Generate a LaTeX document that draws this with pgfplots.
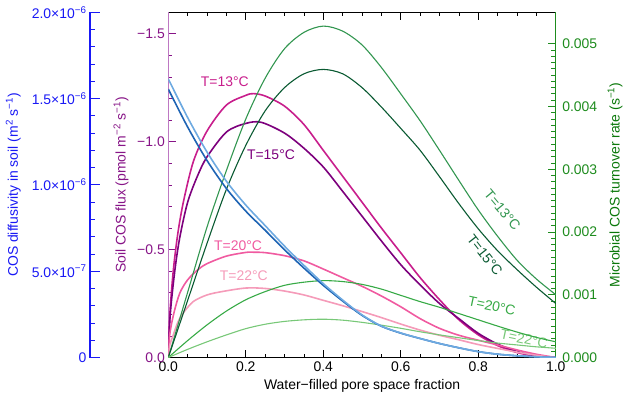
\documentclass[border=0pt]{standalone}
\usepackage{pgfplots}
\pgfplotsset{compat=1.18}
\usepackage{fontspec}
\setmainfont{Liberation Sans}
\definecolor{baxis}{RGB}{25,25,245}
\definecolor{faxis}{RGB}{135,20,135}
\definecolor{fline}{RGB}{190,120,195}
\definecolor{gaxis}{RGB}{30,140,30}
\definecolor{glabel}{RGB}{10,120,10}
\definecolor{cA}{RGB}{200,30,140}
\definecolor{cB}{RGB}{125,0,125}
\definecolor{cC}{RGB}{240,90,160}
\definecolor{cD}{RGB}{245,155,185}
\definecolor{gA}{RGB}{50,150,80}
\definecolor{gB}{RGB}{10,90,50}
\definecolor{gC}{RGB}{55,170,70}
\definecolor{gD}{RGB}{120,200,120}
\definecolor{bD}{RGB}{30,100,180}
\definecolor{bL}{RGB}{110,170,225}
\begin{document}
\begin{tikzpicture}[font=\fontsize{14}{17}\selectfont]
\path[use as bounding box] (-168.3bp,-43.5bp) rectangle (461.7bp,357.5bp);
\pgfplotsset{base/.style={scale only axis, width=387.5bp, height=345.2bp, xmin=0, xmax=1, scaled y ticks=false}}
% ---------------- main: soil COS flux ----------------
\begin{axis}[base, ymin=-1.6, ymax=0, y dir=reverse,
  axis x line*=box, axis y line*=left,
  every outer x axis line/.append style={-}, every outer y axis line/.append style={-},
  x axis line style={-, black, line width=0.8bp},
  y axis line style={-, fline, line width=1.4bp},
  xtick={0,0.2,0.4,0.6,0.8,1}, xticklabels={0.0,0.2,0.4,0.6,0.8,1.0},
  minor x tick num=3, xtick pos=both, xticklabel pos=lower,
  ytick={-1.5,-1,-0.5,0}, yticklabels={−1.5,−1.0,−0.5,0.0},
  minor y tick num=4, ytick pos=left, yticklabel pos=left,
  tick align=inside, major tick length=8bp, minor tick length=4bp,
  x tick style={black, line width=0.8bp}, y tick style={faxis, line width=0.8bp},
  yticklabel style={text=faxis},
  xticklabel style={anchor=base, yshift=-14bp},
  xlabel={Water−filled pore space fraction},
  xlabel style={at={(axis description cs:0.5,-0.083)}, anchor=center},
  ylabel={Soil COS flux (pmol m\textsuperscript{−2} s\textsuperscript{−1})},
  ylabel style={at={(axis description cs:-0.122,0.5)}, anchor=center, text=faxis},
]
\addplot[cA, line width=1.6bp, smooth] coordinates {(0,0) (0.004,-0.2) (0.013,-0.405) (0.025,-0.58) (0.04,-0.73) (0.065,-0.91) (0.1,-1.05) (0.15,-1.17) (0.2,-1.215) (0.22,-1.223) (0.25,-1.212) (0.3,-1.165) (0.35,-1.08) (0.4,-0.96) (0.45,-0.84) (0.5,-0.72) (0.55,-0.6) (0.6,-0.485) (0.65,-0.37) (0.7,-0.268) (0.75,-0.175) (0.8,-0.105) (0.85,-0.055) (0.9,-0.023) (0.95,-0.006) (1,0)};
\addplot[cB, line width=1.6bp, smooth] coordinates {(0,0) (0.005,-0.2) (0.017,-0.405) (0.03,-0.56) (0.05,-0.72) (0.075,-0.84) (0.1,-0.93) (0.15,-1.045) (0.2,-1.085) (0.24,-1.09) (0.3,-1.04) (0.35,-0.97) (0.4,-0.883) (0.45,-0.77) (0.5,-0.655) (0.55,-0.54) (0.6,-0.43) (0.65,-0.336) (0.7,-0.25) (0.75,-0.18) (0.8,-0.112) (0.85,-0.062) (0.9,-0.028) (0.95,-0.008) (1,0)};
\addplot[cC, line width=1.6bp, smooth] coordinates {(0,0) (0.004,-0.11) (0.015,-0.21) (0.03,-0.3) (0.05,-0.36) (0.075,-0.405) (0.1,-0.435) (0.15,-0.47) (0.2,-0.487) (0.22,-0.488) (0.25,-0.486) (0.3,-0.472) (0.35,-0.448) (0.4,-0.41) (0.45,-0.37) (0.5,-0.33) (0.55,-0.285) (0.6,-0.235) (0.65,-0.18) (0.7,-0.135) (0.75,-0.103) (0.8,-0.08) (0.85,-0.058) (0.9,-0.035) (0.95,-0.015) (1,0)};
\addplot[cD, line width=1.6bp, smooth] coordinates {(0,0) (0.004,-0.06) (0.012,-0.1) (0.025,-0.165) (0.04,-0.21) (0.065,-0.26) (0.1,-0.29) (0.14,-0.306) (0.2,-0.322) (0.25,-0.32) (0.3,-0.308) (0.35,-0.29) (0.4,-0.265) (0.45,-0.24) (0.5,-0.213) (0.55,-0.185) (0.6,-0.155) (0.65,-0.127) (0.7,-0.103) (0.75,-0.082) (0.8,-0.06) (0.85,-0.042) (0.9,-0.025) (0.95,-0.01) (1,0)};
\node[text=cA] at (axis cs:0.146,-1.28) {T=13°C};
\node[text=cB] at (axis cs:0.265,-0.942) {T=15°C};
\node[text=cC] at (axis cs:0.18,-0.516) {T=20°C};
\node[text=cD] at (axis cs:0.195,-0.377) {T=22°C};
\node[text=gA, rotate=-50, inner sep=0pt] at (axis cs:0.862,-0.683) {T=13°C};
\node[text=gB, rotate=-52, inner sep=0pt] at (axis cs:0.817,-0.475) {T=15°C};
\node[text=gC, rotate=-12, inner sep=0pt] at (axis cs:0.835,-0.238) {T=20°C};
\node[text=gD, rotate=-12, inner sep=0pt] at (axis cs:0.918,-0.086) {T=22°C};
\end{axis}
% ---------------- green: microbial turnover ----------------
\begin{axis}[base, ymin=0, ymax=0.0055,
  axis x line=none, axis y line*=right,
  every outer y axis line/.append style={-},
  y axis line style={-, gaxis, line width=1.2bp},
  ytick={0,0.001,0.002,0.003,0.004,0.005},
  yticklabels={0.000,0.001,0.002,0.003,0.004,0.005},
  minor y tick num=9, ytick pos=right, yticklabel pos=right,
  tick align=inside, major tick length=8bp, minor tick length=4.5bp,
  y tick style={gaxis, line width=0.8bp},
  yticklabel style={text=gaxis, xshift=3bp},
  ylabel={Microbial COS turnover rate (s\textsuperscript{−1})},
  ylabel style={at={(axis description cs:1.153,0.5)}, anchor=center, text=glabel},
]
\addplot[gA, line width=1.1bp, smooth] coordinates {(0,0) (0.05,1.04e-3) (0.1,2.08e-3) (0.15,2.98e-3) (0.2,3.8e-3) (0.25,4.45e-3) (0.3,4.92e-3) (0.35,5.18e-3) (0.4,5.28e-3) (0.45,5.2e-3) (0.5,4.98e-3) (0.55,4.62e-3) (0.6,4.2e-3) (0.65,3.77e-3) (0.7,3.3e-3) (0.75,2.82e-3) (0.8,2.35e-3) (0.85,1.93e-3) (0.9,1.55e-3) (0.95,1.25e-3) (1,1.0e-3)};
\addplot[gB, line width=1.1bp, smooth] coordinates {(0,0) (0.05,0.91e-3) (0.1,1.82e-3) (0.15,2.68e-3) (0.2,3.38e-3) (0.25,3.93e-3) (0.3,4.3e-3) (0.35,4.52e-3) (0.4,4.59e-3) (0.45,4.52e-3) (0.5,4.3e-3) (0.55,3.99e-3) (0.6,3.65e-3) (0.65,3.3e-3) (0.7,2.88e-3) (0.75,2.45e-3) (0.8,2.05e-3) (0.85,1.7e-3) (0.9,1.4e-3) (0.95,1.12e-3) (1,0.86e-3)};
\addplot[gC, line width=1.1bp, smooth] coordinates {(0,0) (0.05,0.27e-3) (0.1,0.52e-3) (0.15,0.74e-3) (0.2,0.92e-3) (0.25,1.05e-3) (0.3,1.15e-3) (0.35,1.2e-3) (0.4,1.225e-3) (0.45,1.21e-3) (0.5,1.165e-3) (0.55,1.09e-3) (0.6,0.99e-3) (0.65,0.89e-3) (0.7,0.8e-3) (0.75,0.7e-3) (0.8,0.6e-3) (0.85,0.5e-3) (0.9,0.405e-3) (0.95,0.32e-3) (1,0.25e-3)};
\addplot[gD, line width=1.1bp, smooth] coordinates {(0,0) (0.05,0.13e-3) (0.1,0.25e-3) (0.15,0.36e-3) (0.2,0.46e-3) (0.25,0.53e-3) (0.3,0.575e-3) (0.35,0.6e-3) (0.4,0.61e-3) (0.45,0.595e-3) (0.5,0.56e-3) (0.55,0.515e-3) (0.6,0.465e-3) (0.65,0.41e-3) (0.7,0.36e-3) (0.75,0.315e-3) (0.8,0.27e-3) (0.85,0.23e-3) (0.9,0.2e-3) (0.95,0.17e-3) (1,0.147e-3)};
\end{axis}
% ---------------- blue data: diffusivity ----------------
\begin{axis}[base, ymin=0, ymax=2e-6, hide x axis, hide y axis]
\addplot[bD, line width=1.6bp, smooth] coordinates {(0,1.555e-6) (0.05,1.335e-6) (0.1,1.141e-6) (0.15,0.979e-6) (0.2,0.848e-6) (0.25,0.737e-6) (0.3,0.624e-6) (0.35,0.518e-6) (0.4,0.418e-6) (0.45,0.327e-6) (0.5,0.244e-6) (0.55,0.181e-6) (0.6,0.141e-6) (0.65,0.11e-6) (0.7,0.081e-6) (0.75,0.056e-6) (0.8,0.034e-6) (0.85,0.019e-6) (0.9,0.01e-6) (0.95,0.004e-6) (1,0)};
\addplot[bL, line width=1.6bp, smooth] coordinates {(0,1.614e-6) (0.05,1.39e-6) (0.1,1.19e-6) (0.15,1.021e-6) (0.2,0.883e-6) (0.25,0.764e-6) (0.3,0.645e-6) (0.35,0.534e-6) (0.4,0.428e-6) (0.45,0.333e-6) (0.5,0.247e-6) (0.55,0.182e-6) (0.6,0.142e-6) (0.65,0.11e-6) (0.7,0.081e-6) (0.75,0.056e-6) (0.8,0.034e-6) (0.85,0.019e-6) (0.9,0.01e-6) (0.95,0.004e-6) (1,0)};
\end{axis}
% ---------------- blue scale axis ----------------
\begin{axis}[scale only axis, width=20bp, height=345.2bp, at={(-78.3bp,0)}, anchor=south west,
  xmin=0, xmax=1, ymin=0, ymax=2e-6, scaled y ticks=false,
  axis x line=none, axis y line*=left,
  every outer y axis line/.append style={-},
  y axis line style={-, baxis, line width=1.2bp},
  ytick={0,5e-7,1e-6,1.5e-6,2e-6},
  yticklabels={0,5.0×10\textsuperscript{−7},1.0×10\textsuperscript{−6},1.5×10\textsuperscript{−6},2.0×10\textsuperscript{−6}},
  minor y tick num=4, ytick pos=left, yticklabel pos=left,
  tick align=inside, major tick length=10bp, minor tick length=5bp,
  y tick style={baxis, line width=0.8bp},
  yticklabel style={text=baxis},
  ylabel={COS diffusivity in soil (m\textsuperscript{2} s\textsuperscript{−1})},
  ylabel style={at={(axis description cs:-3.835,0.5)}, anchor=center, text=baxis},
]
\addplot[draw=none] coordinates {(0,0)};
\end{axis}
\end{tikzpicture}
\end{document}
